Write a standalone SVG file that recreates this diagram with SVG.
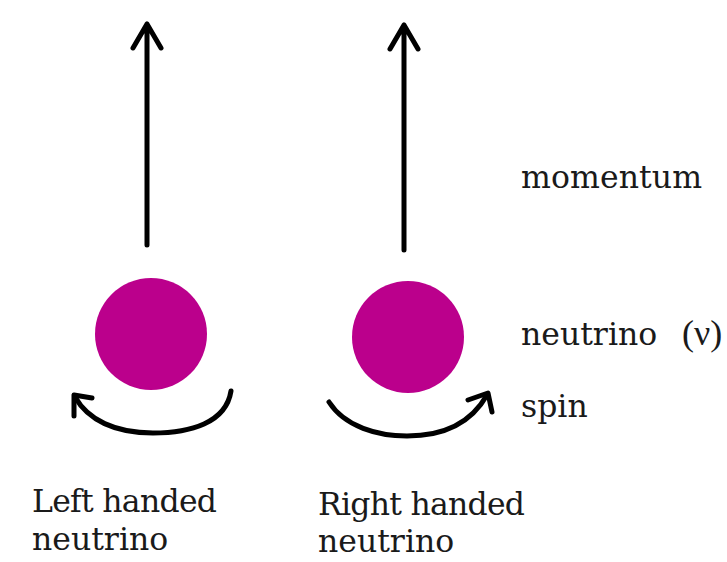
<svg xmlns="http://www.w3.org/2000/svg" width="727" height="562" viewBox="0 0 727 562">
<style>
.lbl{font-family:"DejaVu Serif","Liberation Serif",serif;font-size:31.5px;fill:#1a1a1a}
.ln{fill:none;stroke:#000;stroke-width:5;stroke-linecap:round;stroke-linejoin:round}
.ball{fill:#BB008C}
</style>
<rect width="727" height="562" fill="#fff"/>
<g id="connectors">
<path class="ln" d="M147,245 L147,24 M133,48 L147,24 L161,48"/>
<path class="ln" d="M404,250 L404,25 M390,49 L404,25 L418,49"/>
<path class="ln" d="M231,391 C226,423 190,433 153,433 C115,433 88,420 75,397"/>
<path class="ln" d="M92,398 L74,395 L74,416"/>
<path class="ln" d="M329,402 C345,427 378,436 407,436 C440,436 470,425 487,395"/>
<path class="ln" d="M468,400 L488,393 L492,412"/>
</g>
<g id="left-neutrino">
<circle class="ball" cx="151" cy="334" r="56"/>
<text class="lbl" x="32" y="512" textLength="185">Left handed</text>
<text class="lbl" x="32" y="550">neutrino</text>
</g>
<g id="right-neutrino">
<circle class="ball" cx="408" cy="337" r="56"/>
<text class="lbl" x="318" y="515" textLength="207">Right handed</text>
<text class="lbl" x="318" y="552">neutrino</text>
</g>
<g id="legend">
<text class="lbl" x="521" y="188" textLength="181">momentum</text>
<text class="lbl" x="521" y="345">neutrino</text>
<text class="lbl" x="682" y="345" style="font-family:'Liberation Serif',serif;font-size:36px">(ν)</text>
<text class="lbl" x="521" y="417">spin</text>
</g>
</svg>
